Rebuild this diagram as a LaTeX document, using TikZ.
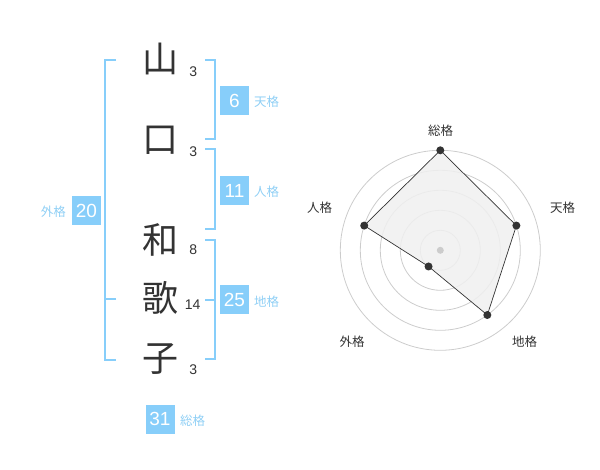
\documentclass[tikz,border=0pt]{standalone}
\usepackage{fontspec}
\setmainfont{Liberation Sans}
\newfontfamily\cjk{Noto Sans CJK JP}
\definecolor{sky}{HTML}{87CEFA}
\definecolor{skytext}{HTML}{8FCFF5}
\definecolor{ink}{HTML}{333333}
\definecolor{ring}{HTML}{CCCCCC}
\definecolor{polyfill}{HTML}{F0F0F0}
\tikzset{
  kanji/.style={font=\cjk\fontsize{36}{36}\selectfont, text=ink, inner sep=0pt},
  strokes/.style={font=\fontsize{14}{14}\selectfont, text=ink, inner sep=0pt},
  numbox/.style={fill=sky, text=white, minimum width=29pt, minimum height=29pt, inner sep=0pt, font=\fontsize{19}{19}\selectfont},
  kaku/.style={font=\cjk\fontsize{12.5}{12.5}\selectfont, text=skytext, inner sep=0pt},
  bracket/.style={draw=sky, line width=2pt},
  radarlabel/.style={font=\cjk\fontsize{12.5}{12.5}\selectfont, text=ink, inner sep=0pt},
  ringline/.style={draw=ring, line width=0.8pt},
  dot/.style={circle, fill=ink, minimum size=8pt, inner sep=0pt},
}
\begin{document}
\begin{tikzpicture}[x=1pt,y=-1pt]
\useasboundingbox (0,0) rectangle (600,470);
% kanji column
\node[kanji] (k1) at (160,59) {山};
\node[kanji] (k2) at (160,140) {口};
\node[kanji] (k3) at (160,240) {和};
\node[kanji] (k4) at (160,298) {歌};
\node[kanji] (k5) at (160,359) {子};
\node[strokes] (s1) at (193.3,72) {3};
\node[strokes] (s2) at (193.3,152) {3};
\node[strokes] (s3) at (193.3,250) {8};
\node[strokes] (s4) at (192.7,305) {14};
\node[strokes] (s5) at (193.3,370) {3};
% right brackets
\coordinate (t1) at (205,60); \coordinate (t2) at (205,139.5);
\draw[bracket] (t1) -| (214.7,139.5) -- (t2);
\coordinate (j1) at (205,149.5); \coordinate (j2) at (205,229.5);
\draw[bracket] (j1) -| (214.7,229.5) -- (j2);
\coordinate (c1) at (205,240); \coordinate (c2) at (205,359.5); \coordinate (cm) at (205,300);
\draw[bracket] (c1) -| (214.7,359.5) -- (c2);
\draw[bracket] (cm) -- (214.7,300);
% left bracket
\coordinate (g1) at (116,60); \coordinate (g2) at (116,360); \coordinate (gm) at (116,299.5);
\draw[bracket] (g1) -| (105,360) -- (g2);
\draw[bracket] (gm) -- (105,299.5);
% boxes
\node[numbox] (b6) at (234.5,100.5) {6};
\node[kaku, anchor=west] (l6) at (254,102) {天格};
\node[numbox] (b11) at (234.5,190.5) {11};
\node[kaku, anchor=west] (l11) at (254,192) {人格};
\node[numbox] (b25) at (234.5,300) {25};
\node[kaku, anchor=west] (l25) at (254,302) {地格};
\node[numbox] (b20) at (86.5,210.5) {20};
\node[kaku, anchor=east] (l20) at (66,212) {外格};
\node[numbox] (b31) at (160,419) {31};
\node[kaku, anchor=west] (l31) at (180,421) {総格};
% radar chart
\begin{scope}[shift={(440.3,250.3)}, yscale=-1]
  \foreach \r in {20,40,60,80,100} {\draw[ringline] (0,0) circle[radius=\r];}
  \coordinate (pS) at (90:100);
  \coordinate (pT) at (18:80);
  \coordinate (pC) at (-54:80);
  \coordinate (pG) at (-126:20);
  \coordinate (pJ) at (162:80);
  \fill[polyfill, opacity=0.85] (pS) -- (pT) -- (pC) -- (pG) -- (pJ) -- cycle;
  \draw[ink, line width=0.7pt] (pS) -- (pT) -- (pC) -- (pG) -- (pJ) -- cycle;
  \node[circle, fill=ring, minimum size=7pt, inner sep=0pt] (ctr) at (0,0) {};
  \foreach \p in {pS,pT,pC,pG,pJ} {\node[dot] at (\p) {};}
\end{scope}
\node[radarlabel] (rS) at (440.5,130.5) {総格};
\node[radarlabel] (rT) at (562.5,208) {天格};
\node[radarlabel] (rC) at (524.5,342) {地格};
\node[radarlabel] (rG) at (352,342) {外格};
\node[radarlabel] (rJ) at (319.5,208) {人格};
\end{tikzpicture}
\end{document}
